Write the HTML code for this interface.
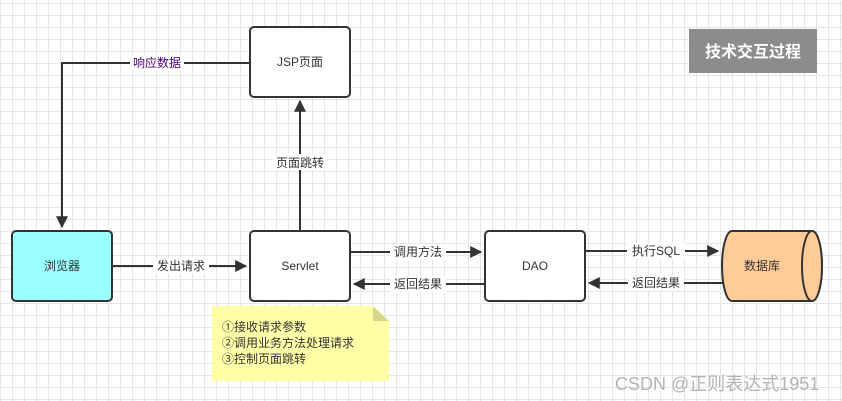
<!DOCTYPE html>
<html><head><meta charset="utf-8"><style>
body{margin:0;width:842px;height:401px;overflow:hidden;background:#fff;
background-image:linear-gradient(#e6e6e6 1px,transparent 1px),linear-gradient(90deg,#e6e6e6 1px,transparent 1px);
background-size:12px 12px;background-position:0 3px;font-family:"Liberation Sans","Noto Sans CJK SC",sans-serif;}
svg{position:absolute;left:0;top:0}
</style></head><body>
<svg width="842" height="401" viewBox="0 0 842 401" font-family="Liberation Sans, Noto Sans CJK SC, sans-serif" font-size="12" fill="#333">
<defs><marker id="a" viewBox="0 0 10 10" refX="9" refY="5" markerWidth="6" markerHeight="6" orient="auto"><path d="M0,0 L10,5 L0,10 z" fill="#333"/></marker></defs>
<rect x="689" y="29" width="128" height="44" fill="#8c8c8c"/>
<text x="753" y="57" text-anchor="middle" fill="#fff" font-weight="bold" font-size="16">技术交互过程</text>
<g stroke="#333" stroke-width="2" fill="#fff">
<rect x="250" y="27" width="100" height="70" rx="4"/>
<rect x="12" y="231" width="100" height="70" rx="4" fill="#99ffff"/>
<rect x="250" y="231" width="100" height="70" rx="4"/>
<rect x="485" y="231" width="100" height="70" rx="4"/>
<path d="M732,231 H812 A10,35 0 0 1 812,301 H732 A10,35 0 0 1 732,231 Z" fill="#ffcc99"/>
<ellipse cx="812" cy="266" rx="10" ry="35" fill="#ffcc99"/>
</g>
<g stroke="#333" stroke-width="2" fill="none">
<path d="M250,63 H62 V227" marker-end="url(#a)"/>
<path d="M112,266 H246" marker-end="url(#a)"/>
<path d="M300,231 V101" marker-end="url(#a)"/>
<path d="M350,252 H481" marker-end="url(#a)"/>
<path d="M485,284 H354" marker-end="url(#a)"/>
<path d="M585,251 H718" marker-end="url(#a)"/>
<path d="M723,283 H589" marker-end="url(#a)"/>
</g>
<g fill="#fff">
<rect x="130" y="55" width="54" height="16"/>
<rect x="153" y="258" width="56" height="16"/>
<rect x="273" y="154" width="54" height="16"/>
<rect x="390" y="244" width="56" height="16"/>
<rect x="390" y="276" width="56" height="16"/>
<rect x="627" y="243" width="58" height="16"/>
<rect x="628" y="275" width="56" height="16"/>
</g>
<text x="157" y="67" text-anchor="middle" fill="#4b0082">响应数据</text>
<text x="181" y="270" text-anchor="middle">发出请求</text>
<text x="300" y="167" text-anchor="middle">页面跳转</text>
<text x="418" y="256" text-anchor="middle">调用方法</text>
<text x="418" y="288" text-anchor="middle">返回结果</text>
<text x="656" y="255" text-anchor="middle">执行SQL</text>
<text x="656" y="287" text-anchor="middle">返回结果</text>
<text x="300" y="66" text-anchor="middle">JSP页面</text>
<text x="62" y="270" text-anchor="middle">浏览器</text>
<text x="300" y="270" text-anchor="middle">Servlet</text>
<text x="535" y="270" text-anchor="middle">DAO</text>
<text x="762" y="270" text-anchor="middle">数据库</text>
<path d="M212,306 H373 L389,321 V381 H212 Z" fill="#ffffa8"/>
<path d="M373,306 L389,321 H373 Z" fill="#d8d88a"/>
<text x="222" y="331">①接收请求参数</text>
<text x="222" y="347">②调用业务方法处理请求</text>
<text x="222" y="363">③控制页面跳转</text>
<text x="615" y="390" font-size="18" fill="#b4b4b4">CSDN @正则表达式1951</text>
</svg>
</body></html>
